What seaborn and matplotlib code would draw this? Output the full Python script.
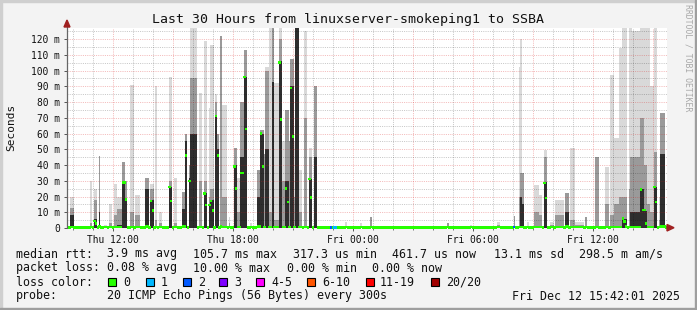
import numpy as np
import pandas as pd
import matplotlib
matplotlib.use("Agg")
import matplotlib.pyplot as plt
from matplotlib.patches import Rectangle, Polygon
import seaborn as sns

# ---------------- data ----------------
title = "Last 30 Hours from linuxserver-smokeping1 to SSBA"
start_h, end_h = 9.7, 39.7          # hours since Thu 00:00 (Thu 09:42 .. Fri 15:42)
step_min = 5                         # one ping round every 300 s
base_median = 0.4                    # ms, quiet periods

# spikes: start (hours since Thu 00:00), number of 5-min steps, median(s),
# darkest smoke top, mid smoke top, lightest smoke top  (all in ms)
spike_start = [9.90, 10.85, 11.00, 11.30, 11.55, 11.80, 12.00, 12.20, 12.45, 12.60,
               12.90, 13.15, 13.60, 13.85, 14.15, 14.30, 14.75, 15.00, 15.45, 15.65,
               15.75, 15.90, 16.25, 16.55, 16.75, 16.85, 17.10, 17.20, 17.35, 17.45,
               17.80, 18.00, 18.17, 18.33, 18.50, 18.90, 19.20, 19.40, 19.57, 19.65,
               19.82, 19.98, 20.07, 20.32, 20.49, 20.65, 20.80, 20.90, 21.07, 21.15,
               21.32, 21.50, 21.65, 21.80, 22.05, 23.65, 24.35, 24.90, 28.70, 29.85,
               31.20, 32.05, 32.30, 32.40, 32.48, 32.70, 33.00, 33.30, 33.55, 33.85,
               34.15, 34.65, 34.90, 35.15, 35.65, 36.10, 36.65, 36.90, 37.07, 37.32,
               37.48, 37.75, 37.90, 38.40, 38.57, 38.73, 38.90, 39.05, 39.25, 39.35]
spike_steps = [2, 1, 2, 1, 2, 2, 2, 3, 2, 1,
               2, 3, 2, 2, 1, 2, 2, 2, 2, 1,
               1, 4, 2, 2, 1, 2, 1, 1, 1, 3,
               1, 2, 2, 2, 2, 1, 2, 2, 1, 2,
               2, 1, 3, 2, 2, 2, 1, 2, 1, 2,
               2, 2, 1, 2, 2, 1, 1, 1, 1, 1,
               2, 1, 1, 1, 1, 1, 3, 2, 2, 2,
               5, 2, 3, 5, 1, 2, 2, 2, 3, 2,
               3, 2, 6, 2, 2, 2, 2, 2, 1, 3]
spike_median = [0.5, 0.5, [4.5, 3], 1, 0.5, 0.5, 0.5, 0.5, [29, 29], 18,
                0.5, 0.5, 1, [17, 11], 0.5, 0.5, [26, 17], 0.5, 1, 46,
                30, None, 0.5, [22, 14.6], 14.6, [17, 11], 71, 46, 1, 0.5,
                0.5, [39, 25], 0.5, 35, [96, 63], 0.5, 1, [60, 39], 0.5, None,
                0.5, None, 0.5, [105, 69], 0.5, [25, 16.5], 0.5, [89, 58], 0.5, None,
                0.5, 0.5, 0.5, [31, 19.5], None, 0.5, 0.5, 0.5, 0.5, 0.5,
                0.5, 0.5, 0.5, 0.5, 0.5, 0.5, 0.5, 0.5, [28.6, 19], 0.5,
                0.5, 1, 0.5, 0.5, 0.5, 0.5, 0.5, 0.5, 0.5, 0.5,
                [6, 4, 1], 0.5, 0.5, [24.6, 11.4], [11.4, 3], 0.5, 0.5, [26, 16.5], 0.5, 1]
spike_dark = [8, 0, 6, 10, 0, 0, 0, 2, 29, 18,
              0, 0, 25, 18, 0, 0, 26, 0, 12, 55,
              32, 60, 0, 22, 14, 18, 71, 50, 0, 0,
              0, 40, 0, 45, 96, 0, 20, 60, 0, 50,
              0, 93, 0, 106, 0, 30, 0, 90, 0, 135,
              0, 0, 0, 31, 45, 0, 0, 0, 0, 0,
              0, 0, 0, 20, 15, 0, 0, 0, 29, 0,
              0, 10, 0, 0, 0, 0, 0, 0, 0, 0,
              6, 0, 10, 25, 11, 0, 0, 26, 0, 47]
spike_mid = [13, 3, 18, 46, 1, 3, 8, 12, 42, 30,
             10, 8, 32, 25, 5, 3, 30, 3, 23, 60,
             40, 95, 30, 30, 20, 25, 80, 60, 122, 20,
             3, 51, 10, 80, 113, 1, 37, 62, 47, 100,
             10, 135, 5, 120, 30, 75, 55, 107, 20, 135,
             10, 70, 20, 45, 90, 0, 1, 7, 3, 0,
             2, 7.5, 20, 35, 35, 1, 10, 8, 45, 2,
             8, 22, 5, 2, 7, 45, 15, 8, 15, 20,
             20, 25, 45, 70, 40, 15, 10, 48, 5, 73]
spike_light = [20, 30, 25, 46, 2, 15, 28, 20, 42, 30,
               91, 21, 32, 28, 90, 10, 96, 32, 23, 60,
               40, 135, 86, 119, 76, 116, 85, 60, 122, 78,
               7, 51, 32, 80, 113, 3, 37, 62, 47, 102,
               135, 135, 92, 135, 55, 75, 55, 107, 55, 135,
               37, 125, 20, 51, 90, 4, 3, 7, 3, 2,
               4, 7.5, 102, 120, 35, 4, 27, 21, 49.5, 4,
               18, 22, 51, 4, 7, 45, 38.5, 97, 57, 114,
               135, 135, 125, 135, 135, 135, 90, 135, 20, 73]

# packet loss (pings lost out of 20)
loss_start = [22.90, 23.00, 23.15, 32.05]
loss_count = [2, 1, 1, 2]

# legend / statistics texts (one list of columns per legend row)
stat_rows = [
    ["median rtt:", "3.9 ms avg", "105.7 ms max", "317.3 us min", "461.7 us now",
     "13.1 ms sd", "298.5 m am/s"],
    ["packet loss:", "0.08 % avg", "10.00 % max", "0.00 % min", "0.00 % now"],
    ["loss color:"],
    ["probe:", "20 ICMP Echo Pings (56 Bytes) every 300s"],
]
loss_labels = ["0", "1", "2", "3", "4-5", "6-10", "11-19", "20/20"]
loss_colors = ["#26ff00", "#00b8ff", "#0059ff", "#7e00ff", "#ff00ff", "#ff5500", "#ff0000", "#a10000"]
stamp = "Fri Dec 12 15:42:01 2025"
y_ticks = [0, 10, 20, 30, 40, 50, 60, 70, 80, 90, 100, 110, 120]
y_labels = ["0"] + [f"{v} m" for v in y_ticks[1:]]
x_ticks = [12, 18, 24, 30, 36]
x_labels = ["Thu 12:00", "Thu 18:00", "Fri 00:00", "Fri 06:00", "Fri 12:00"]

# ---------------- build per-step arrays ----------------
step_h = step_min / 60
n = int(round((end_h - start_h) / step_h))
t_edges = start_h + np.arange(n + 1) * step_h
t_mid = t_edges[:-1] + step_h / 2
med = np.full(n, base_median)
dark = np.zeros(n)
mid = np.zeros(n)
light = np.zeros(n)
loss = np.zeros(n, dtype=int)

for s, nb, m, d, mi, li in zip(spike_start, spike_steps, spike_median,
                               spike_dark, spike_mid, spike_light):
    i0 = int(round((s - start_h) / step_h))
    ms = m if isinstance(m, list) else [m] * nb
    for k in range(nb):
        i = i0 + k
        if i >= n:
            break
        med[i] = np.nan if ms[k] is None else ms[k]
        dark[i] = max(dark[i], d)
        mid[i] = max(mid[i], mi)
        light[i] = max(light[i], li)
for s, c in zip(loss_start, loss_count):
    loss[int(round((s - start_h) / step_h))] = c

def loss_class(c):
    if c <= 3:
        return loss_labels[c]
    if c <= 5:
        return "4-5"
    if c <= 10:
        return "6-10"
    if c <= 19:
        return "11-19"
    return "20/20"

df = pd.DataFrame({"t": t_mid, "median": med, "dark": dark, "mid": mid,
                   "light": light, "loss": [loss_class(c) for c in loss]})

# ---------------- figure ----------------
sns.set_theme(style="white")
plt.rcParams["font.family"] = ["DejaVu Sans Mono", "DejaVu Sans"]

W, H = 697, 310
fig = plt.figure(figsize=(W / 100, H / 100), dpi=100, facecolor="#f3f3f3")

def fx(x):
    return x / W

def fy(y):
    return 1 - y / H

# 3D frame
fig.patches.append(Rectangle((0, 0), fx(2), 1, transform=fig.transFigure, color="#cfcfcf", zorder=0))
fig.patches.append(Rectangle((0, fy(2)), 1, fy(0) - fy(2), transform=fig.transFigure, color="#cfcfcf", zorder=0))
fig.patches.append(Rectangle((fx(W - 2), 0), fx(2), 1, transform=fig.transFigure, color="#9e9e9e", zorder=0))
fig.patches.append(Rectangle((0, 0), 1, 1 - fy(2), transform=fig.transFigure, color="#9e9e9e", zorder=0))

ax = fig.add_axes([fx(67), fy(228), fx(667) - fx(67), fy(28) - fy(228)])
ax.set_facecolor("white")

# smoke layers
for col_name, col in [("light", "#d9d9d9"), ("mid", "#9a9a9a"), ("dark", "#2e2e2e")]:
    sns.histplot(data=df, x="t", weights=col_name, bins=list(t_edges), color=col, alpha=1,
                 element="bars", fill=True, linewidth=0, edgecolor="none",
                 ax=ax, zorder=2)

# grid (drawn over the smoke, like rrdtool)
major_col = (0.85, 0.1, 0.1, 0.3)
minor_col = (0, 0, 0, 0.22)
for h in range(10, 40):
    ax.axvline(h, color=major_col if h % 3 == 0 else minor_col,
               lw=0.72, ls=(0, (1, 1.2)), zorder=3)
for v in range(5, 128, 5):
    ax.axhline(v, color=major_col if v % 10 == 0 else minor_col,
               lw=0.72, ls=(0, (1, 1.2)), zorder=3)

# median markers coloured by loss
pal = dict(zip(loss_labels, loss_colors))
sns.scatterplot(data=df.dropna(subset=["median"]), x="t", y="median", hue="loss",
                palette=pal, marker="s", s=3.2, linewidth=0, legend=False,
                ax=ax, zorder=4, clip_on=False)

ax.set_xlim(start_h, end_h)
ax.set_ylim(0, 127)
ax.set_xlabel("")
ax.set_ylabel("")
for sp in ax.spines.values():
    sp.set_visible(False)
ax.set_xticks(x_ticks)
ax.set_xticklabels(x_labels)
ax.set_xticks(range(10, 40), minor=True)
ax.set_yticks(y_ticks)
ax.set_yticklabels(y_labels)
ax.tick_params(axis="x", which="major", length=2, width=0.7, color="#555555",
               pad=3, labelsize=6.9, labelcolor="#111111", direction="out")
ax.tick_params(axis="x", which="minor", length=1.5, width=0.7, color="#777777", direction="out")
ax.tick_params(axis="y", length=2, width=0.7, color="#555555", pad=3,
               labelsize=6.9, labelcolor="#111111", direction="out")
ax.xaxis.set_ticks_position("bottom")
ax.yaxis.set_ticks_position("left")

# axes lines and arrows (figure pixel coordinates)
def line(x0, y0, x1, y1, **kw):
    fig.add_artist(plt.Line2D([fx(x0), fx(x1)], [fy(y0), fy(y1)], transform=fig.transFigure, **kw))

line(67, 228, 67, 24, color="#666666", lw=0.9, zorder=5)
fig.add_artist(Polygon([[fx(64), fy(27)], [fx(70), fy(27)], [fx(67), fy(20)]],
                       closed=True, transform=fig.transFigure, color="#a02020", zorder=6))
fig.add_artist(Polygon([[fx(667), fy(224.5)], [fx(667), fy(231)], [fx(674), fy(227.7)]],
                       closed=True, transform=fig.transFigure, color="#a02020", zorder=6))

# texts
fig.text(fx(348), fy(19), title, ha="center", va="center", fontsize=9.5, color="#111111")
fig.text(fx(11), fy(127), "Seconds", ha="center", va="center", rotation=90,
         fontsize=8, color="#111111")
fig.text(fx(688), fy(4), "RRDTOOL / TOBI OETIKER", ha="center", va="top", rotation=270,
         fontsize=5.9, color="#a8a8a8")

LEG_FS = 8.4
row_y = [254, 268, 282, 296]
row_x = [[16, 107, 193, 293, 392, 494, 579],
         [16, 107, 193, 287, 372],
         [16],
         [16, 107]]
for cols, xs, yy in zip(stat_rows, row_x, row_y):
    for txt, xx in zip(cols, xs):
        fig.text(fx(xx), fy(yy), txt, ha="left", va="center", fontsize=LEG_FS, color="#111111")

box_x = [108, 146, 183, 219, 256, 307, 366, 431]
lab_x = [123, 161, 198, 234, 271, 322, 380, 446]
for bx, lx, lab, col in zip(box_x, lab_x, loss_labels, loss_colors):
    fig.patches.append(Rectangle((fx(bx), fy(286)), fx(8), fy(278) - fy(286),
                                 transform=fig.transFigure, facecolor=col,
                                 edgecolor="black", lw=0.8, zorder=3))
    fig.text(fx(lx), fy(282), lab, ha="left", va="center", fontsize=LEG_FS, color="#111111")

fig.text(fx(680), fy(296), stamp, ha="right", va="center", fontsize=LEG_FS, color="#111111")

fig.savefig("out.png", dpi=100, facecolor=fig.get_facecolor())
